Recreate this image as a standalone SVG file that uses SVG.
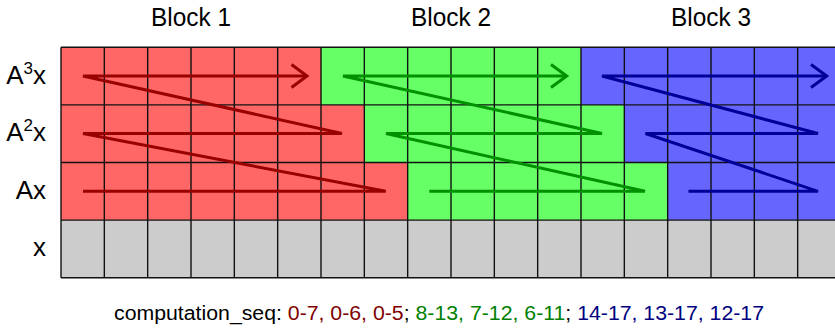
<svg xmlns="http://www.w3.org/2000/svg" width="835" height="328" viewBox="0 0 835 328">
<defs>
<style>
.lbl{font-family:"Liberation Sans",Arial,sans-serif;font-size:26px;fill:#000}
.cap{font-family:"Liberation Sans",Arial,sans-serif;font-size:20px;fill:#000}
.red{fill:#ff6666}.green{fill:#66ff66}.blue{fill:#6666ff}.gray{fill:#cccccc}
.grid{stroke:#111;stroke-width:1.4;fill:none}
.zr{stroke:#990000;stroke-width:3;fill:none}
.zg{stroke:#009000;stroke-width:3;fill:none}
.zb{stroke:#000099;stroke-width:3;fill:none}
</style>
</defs>
<rect width="835" height="328" fill="#fff"/>

<g id="block1">
<rect class="red" x="61" y="47.3" width="260" height="57.6"/>
<rect class="red" x="61" y="104.9" width="303.33" height="57.6"/>
<rect class="red" x="61" y="162.5" width="346.67" height="57.6"/>
<text class="lbl" x="191" y="26" text-anchor="middle" textLength="80" lengthAdjust="spacingAndGlyphs">Block 1</text>
</g>
<g id="block2">
<rect class="green" x="321" y="47.3" width="260" height="57.6"/>
<rect class="green" x="364.33" y="104.9" width="260" height="57.6"/>
<rect class="green" x="407.67" y="162.5" width="260" height="57.6"/>
<text class="lbl" x="451" y="26" text-anchor="middle" textLength="80" lengthAdjust="spacingAndGlyphs">Block 2</text>
</g>
<g id="block3">
<rect class="blue" x="581" y="47.3" width="260" height="57.6"/>
<rect class="blue" x="624.33" y="104.9" width="220" height="57.6"/>
<rect class="blue" x="667.67" y="162.5" width="180" height="57.6"/>
<text class="lbl" x="711" y="26" text-anchor="middle" textLength="80" lengthAdjust="spacingAndGlyphs">Block 3</text>
</g>
<g id="row-x">
<rect class="gray" x="61" y="220.1" width="780" height="57.6"/>
</g>

<g id="grid">
<path class="grid" d="M61,47.3H841M61,104.9H841M61,162.5H841M61,220.1H841M61,277.7H841
M61,47.3V277.7M104.33,47.3V277.7M147.67,47.3V277.7M191,47.3V277.7M234.33,47.3V277.7M277.67,47.3V277.7
M321,47.3V277.7M364.33,47.3V277.7M407.67,47.3V277.7M451,47.3V277.7M494.33,47.3V277.7M537.67,47.3V277.7
M581,47.3V277.7M624.33,47.3V277.7M667.67,47.3V277.7M711,47.3V277.7M754.33,47.3V277.7M797.67,47.3V277.7"/>
</g>

<g id="row-labels">
<text class="lbl" x="46" y="83.5" text-anchor="end">A<tspan font-size="17" dy="-10">3</tspan><tspan dy="10">x</tspan></text>
<text class="lbl" x="46" y="141.2" text-anchor="end">A<tspan font-size="17" dy="-10">2</tspan><tspan dy="10">x</tspan></text>
<text class="lbl" x="46" y="198.8" text-anchor="end">Ax</text>
<text class="lbl" x="46" y="256.4" text-anchor="end">x</text>
</g>

<g id="connectors">
<polyline class="zr" points="83,191.3 385.7,191.3 83,133.5 342,133.5 83,76 307,76"/>
<polyline class="zr" points="291.5,64.5 307,76 291.5,87.5"/>
<polyline class="zg" points="429.3,191.3 645,191.3 386,133.5 602,133.5 343,76 566.7,76"/>
<polyline class="zg" points="551,64.5 566.7,76 551,87.5"/>
<polyline class="zb" points="688.5,191.3 818,191.3 645.5,133.5 818,133.5 602,76 826.7,76"/>
<polyline class="zb" points="811,64.5 826.7,76 811,87.5"/>
</g>

<g id="caption">
<text class="cap" x="114" y="320" textLength="650" lengthAdjust="spacingAndGlyphs">computation_seq: <tspan fill="#800000">0-7, 0-6, 0-5</tspan>; <tspan fill="#008000">8-13, 7-12, 6-11</tspan>; <tspan fill="#000080">14-17, 13-17, 12-17</tspan></text>
</g>
</svg>
